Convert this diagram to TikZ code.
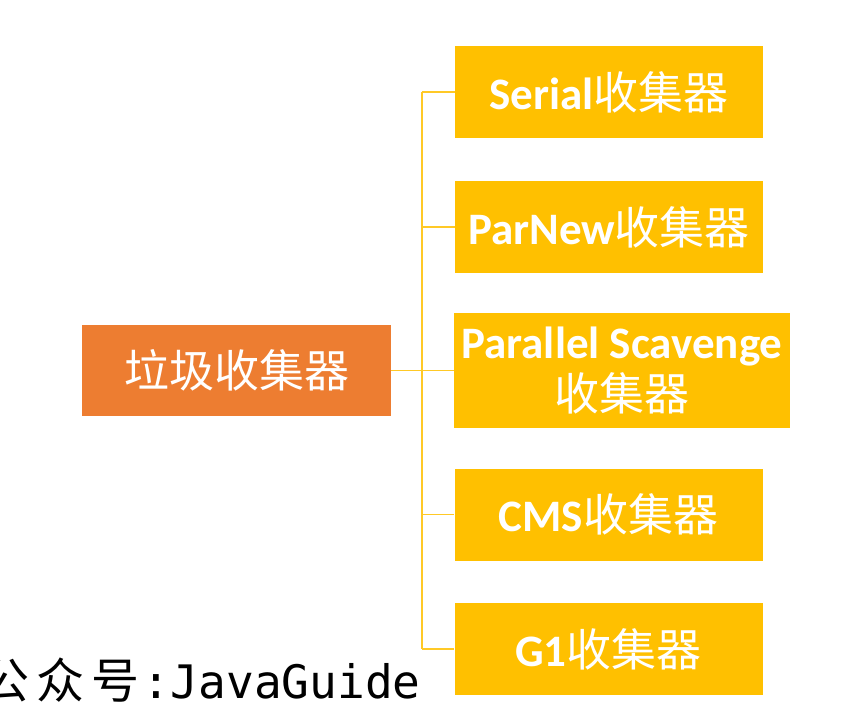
\documentclass[tikz,border=0pt]{standalone}
\usepackage{fontspec}
\newfontfamily\latfont{Carlito}
\newfontfamily\cjkfont{Noto Sans CJK SC}
\newfontfamily\monofont{DejaVu Sans Mono}
\definecolor{gcorange}{HTML}{ED7D31}
\definecolor{gcgold}{HTML}{FFC000}
\newcommand{\gclabel}[1]{{\latfont\bfseries #1}}
\newcommand{\gccjk}[1]{{\cjkfont #1}}
\begin{document}
\begin{tikzpicture}[x=0.75pt,y=-0.75pt,
  rootbox/.style={fill=gcorange, draw=none, text=white, inner sep=0pt,
    minimum width=231.75pt, minimum height=68.25pt,
    font=\fontsize{33.75}{40}\selectfont},
  leafbox/.style={fill=gcgold, draw=none, text=white, inner sep=0pt,
    minimum width=231pt, minimum height=69pt, align=center,
    font=\fontsize{33.75}{41}\selectfont},
  branch/.style={draw=gcgold!85!white, line width=1.2pt}]
  \useasboundingbox (0,0) rectangle (842,723);
  \clip (0,0) rectangle (842,723);
  \fill[white] (0,0) rectangle (842,723);

  % root and collectors
  \node[rootbox] (root) at (236.5,370.5) {\gccjk{垃圾收集器}};
  \node[leafbox] (serial) at (609,92) {\gclabel{Serial}\gccjk{收集器}};
  \node[leafbox] (parnew) at (609,227) {\gclabel{ParNew}\gccjk{收集器}};
  \node[leafbox, minimum width=252pt, minimum height=86.25pt] (parallel) at (622,370.5)
    {\gclabel{Parallel Scavenge}\\[-2pt]\gccjk{收集器}};
  \node[leafbox] (cms) at (608.5,514.5) {\gclabel{CMS}\gccjk{收集器}};
  \node[leafbox] (g1) at (608.5,649) {\gclabel{G1}\gccjk{收集器}};

  % tree connectors
  \coordinate (trunk) at (422,370.5);
  \draw[branch] (root.east) -- (trunk);
  \draw[branch] (trunk |- serial.west) -- (trunk |- g1.west);
  \foreach \leaf in {serial,parnew,parallel,cms,g1}
    \draw[branch] (trunk |- \leaf.west) -- (\leaf.west);

  % caption
  \node[anchor=base east, inner sep=0pt, text=black] (caption) at (421,698)
    {{\cjkfont\fontsize{36}{40}\selectfont\makebox[41.25pt]{公}\makebox[41.25pt]{众}\makebox[41.25pt]{号}}{\monofont\fontsize{34.6}{40}\selectfont :JavaGuide}};
\end{tikzpicture}
\end{document}
